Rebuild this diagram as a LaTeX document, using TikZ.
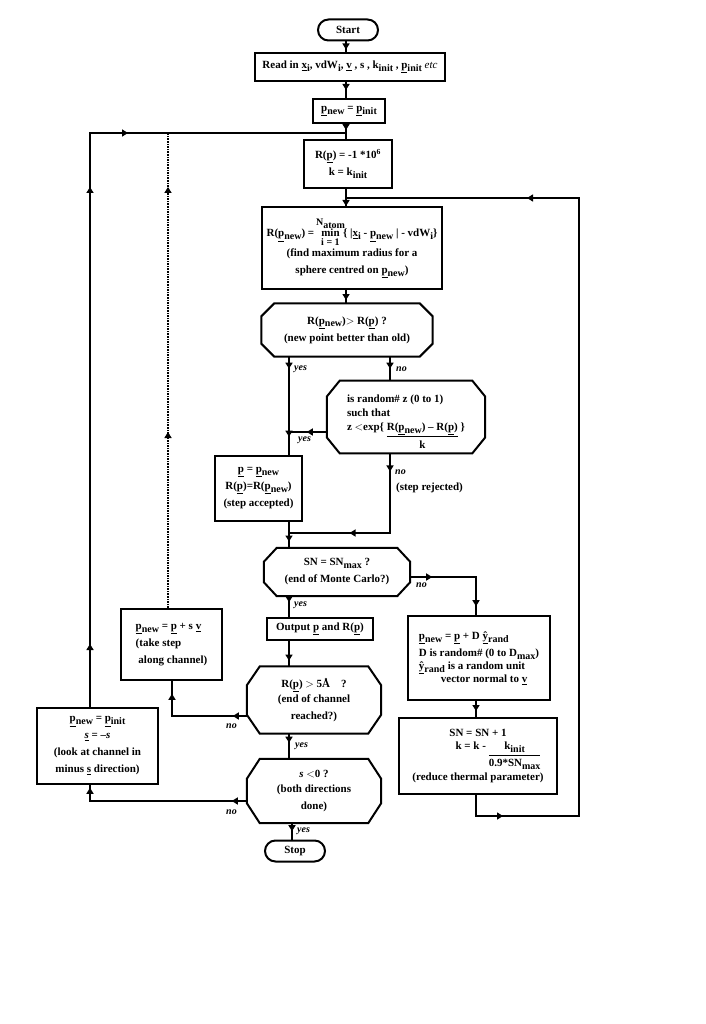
\documentclass[tikz,border=0pt]{standalone}
\usepackage{fontspec}
\usepackage{amsmath}
\setmainfont{Liberation Serif}
\usetikzlibrary{arrows.meta,decorations.markings,shapes.misc,calc}
\newcommand\lo[1]{\raisebox{-0.55ex}{\fontsize{10}{10}\selectfont #1}}
\newcommand\ul[1]{\underline{#1}}
\newcommand\fs{\fontsize{11}{17}\selectfont\bfseries}
\newcommand\sm[1]{\mbox{\fontsize{10}{10}\selectfont\bfseries #1}}
\newcommand\md[1]{\mbox{\fontsize{11}{11}\selectfont\bfseries #1}}
\newcommand\octdraw[3]{%
  \draw[box] ($(#1.north west)+(#2,0)$) -- ($(#1.north east)+(-#2,0)$) -- ($(#1.north east)+(0,#3)$) -- ($(#1.south east)+(0,-#3)$) -- ($(#1.south east)+(-#2,0)$) -- ($(#1.south west)+(#2,0)$) -- ($(#1.south west)+(0,-#3)$) -- ($(#1.north west)+(0,#3)$) -- cycle;}
\begin{document}
\begin{tikzpicture}[x=1pt,y=-1pt,
  box/.style={draw, line width=2pt},
  nb/.style={inner sep=0pt, align=center, font=\fs},
  conn/.style={line width=2pt},
  am/.style={postaction={decorate,decoration={markings,mark=at position #1 with {\arrow{Triangle[length=6pt,width=7pt]}}}}},
  lab/.style={font=\fontsize{10}{10}\selectfont\bfseries\itshape, inner sep=0pt, anchor=west}]
\useasboundingbox (0,0) rectangle (705,1024);
% columns and rows
\coordinate (mcol) at (346,0);
\coordinate (ycol) at (289,0);
\coordinate (ncol) at (390,0);
\coordinate (rcol) at (476,0);
\coordinate (tcol) at (172,0);
\coordinate (dcol) at (168,0);
\coordinate (fcol) at (90,0);
\coordinate (scol) at (292,0);
\coordinate (top) at (0,133);
\coordinate (r1) at (0,432);
\coordinate (r2) at (0,533);
\coordinate (r3) at (0,577);
\coordinate (r6) at (0,716);
\coordinate (r7) at (0,801);
\coordinate (lb) at (579,816);
\coordinate (lt) at (579,198);
% nodes
\node[box, rounded rectangle, nb, minimum width=60pt, minimum height=21pt] (start) at (348,30) {Start};
\node[box, nb, minimum width=190pt, minimum height=28pt] (read) at (350,67) {Read in \ul{x}\lo{i}, vdW\lo{i}, \ul{v} , s , k\lo{init} , \ul{p}\lo{init} \textmd{\itshape etc}};
\node[box, nb, minimum width=72pt, minimum height=24pt] (pnew) at (349,111) {\ul{p}\lo{new} = \ul{p}\lo{init}};
\node[box, nb, minimum width=88pt, minimum height=48pt] (rinit) at (348,164) {R(\ul{p}) = -1 *10$^{\text{6}}$\\k = k\lo{init}};
\node[box, nb, minimum width=180pt, minimum height=82pt] (rbig) at (352,248) {R(\ul{p}\lo{new}) =\,$\mathop{\md{min}}\limits_{\sm{i = 1}}^{\sm{N\lo{atom}}}$\!\{ |\ul{x}\lo{i} - \ul{p}\lo{new} | - vdW\lo{i}\}\\[1pt](find maximum radius for a\\sphere centred on \ul{p}\lo{new})};
\node[nb, minimum width=171pt, minimum height=53pt] (d1) at (347,330) {R(\ul{p}\lo{new})$>$ R(\ul{p}) ?\\(new point better than old)};
\node[nb, minimum width=158pt, minimum height=70pt, align=left] (d2) at (406,417) {\rule{0pt}{22pt}is random\# z (0 to 1)\\[-3pt]such that\\[-3pt]z $<$exp\{ \begin{tabular}[t]{@{}c@{}}R(\ul{p}\lo{new}) -- R(\ul{p})\\\hline k\end{tabular} \}};
\node[box, nb, minimum width=87pt, minimum height=65pt] (accept) at (258.5,488) {\ul{p} = \ul{p}\lo{new}\\R(\ul{p})=R(\ul{p}\lo{new})\\(step accepted)};
\node[nb, minimum width=146pt, minimum height=48pt] (d3) at (337,572) {SN = SN\lo{max} ?\\(end of Monte Carlo?)};
\node[draw, line width=1.2pt, nb, minimum width=106pt, minimum height=22pt] (out) at (320,629) {Output \ul{p} and R(\ul{p})};
\node[box, nb, minimum width=142pt, minimum height=84pt, align=left] (rs) at (479,658) {\ul{p}\lo{new} = \ul{p} + D \ul{\^{y}}\lo{rand}\\D is random\# (0 to D\lo{max})\\[-4pt]\ul{\^{y}}\lo{rand} is a random unit\\[-4pt]\hspace*{22pt}vector normal to \ul{v}};
\node[box, nb, minimum width=158pt, minimum height=76pt] (sn) at (478,756) {SN = SN + 1\\[-4pt]\hspace*{40pt}k = k - \begin{tabular}[t]{@{}c@{}}k\lo{init}\\\hline 0.9*SN\lo{max}\end{tabular}\\[0pt](reduce thermal parameter)};
\node[nb, minimum width=134pt, minimum height=67pt] (d4) at (314,700) {R(\ul{p}) $>$ 5Å\quad ?\\[-2pt](end of channel\\reached?)};
\node[box, nb, minimum width=101pt, minimum height=71pt, align=left] (ts) at (171.5,644.5) {\ul{p}\lo{new} = \ul{p} + s \ul{v}\\(take step\\\ along channel)};
\node[nb, minimum width=134pt, minimum height=64pt] (d5) at (314,791) {\textit{s} $<$0 ?\\[-2pt](both directions\\done)};
\node[box, nb, minimum width=121pt, minimum height=76pt] (flip) at (97.5,746) {\ul{p}\lo{new} = \ul{p}\lo{init}\\\ul{\textit{s}} = --\textit{s}\\(look at channel in\\minus \ul{s} direction)};
\node[box, rounded rectangle, nb, minimum width=60pt, minimum height=21pt] (stop) at (295,851) {Stop};
\octdraw{d1}{13}{13}
\octdraw{d2}{13}{16}
\octdraw{d3}{13}{14}
\octdraw{d4}{13}{19}
\octdraw{d5}{13}{20}
% connectors
\draw[conn, am=8pt] (start.south -| mcol) -- (read.north -| mcol);
\draw[conn, am=8pt] (read.south -| mcol) -- (pnew.north -| mcol);
\draw[conn, am=6pt] (pnew.south -| mcol) -- (rinit.north -| mcol);
\draw[conn, am=17pt] (rinit.south -| mcol) -- (rbig.north -| mcol);
\draw[conn, am=10pt] (rbig.south -| mcol) -- (d1.north -| mcol);
\draw[conn, am=12pt, am=80pt] (d1.south -| ycol) -- (accept.north -| ycol);
\draw[conn, am=12pt] (d1.south -| ncol) -- (d2.north -| ncol);
\draw[conn, am=20pt] (d2.west |- r1) -- (ycol |- r1);
\draw[conn, am=20pt] (accept.south -| ycol) -- (d3.north -| ycol);
\draw[conn, am=18pt, am=120pt] (d2.south -| ncol) |- (ycol |- r2);
\draw[conn, am=6pt] (d3.south -| ycol) -- (out.north -| ycol);
\draw[conn, am=22pt, am=95pt] (d3.east |- r3) -| (rs.north -| rcol);
\draw[conn, am=10pt] (rs.south -| rcol) -- (sn.north -| rcol);
\draw[conn, am=48pt, am=794pt] (sn.south -| rcol) |- (lb) -- (lt) -- (lt -| mcol);
\draw[conn, am=20pt] (out.south -| ycol) -- (d4.north -| ycol);
\draw[conn, am=14pt, am=97pt] (d4.west |- r6) -| (ts.south -| tcol);
\draw[line width=1.6pt, densely dotted, am=176pt, am=421pt] (ts.north -| dcol) -- (dcol |- top);
\draw[conn, am=9pt] (d4.south -| ycol) -- (d5.north -| ycol);
\draw[conn, am=15pt, am=170pt] (d5.west |- r7) -| (flip.south -| fcol);
\draw[conn, am=63pt, am=520pt, am=612pt] (flip.north -| fcol) |- (mcol |- top);
\draw[conn, am=8pt] (d5.south -| scol) -- (stop.north -| scol);
% labels
\node[lab] (l1) at (294,369) {yes};
\node[lab] (l2) at (396,369) {no};
\node[lab] (l3) at (298,440) {yes};
\node[lab] (l4) at (395,472) {no};
\node[font=\fs, inner sep=0pt, anchor=west] (l5) at (396,488) {(step rejected)};
\node[lab] (l6) at (294,605) {yes};
\node[lab] (l7) at (416,585) {no};
\node[lab] (l8) at (226,726) {no};
\node[lab] (l9) at (295,746) {yes};
\node[lab] (l10) at (226,812) {no};
\node[lab] (l11) at (297,831) {yes};
\end{tikzpicture}
\end{document}
